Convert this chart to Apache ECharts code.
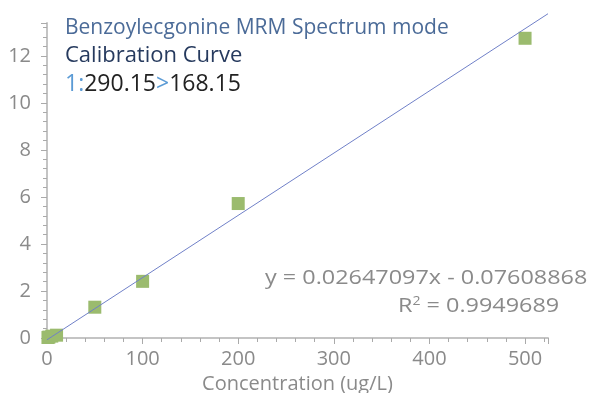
<!DOCTYPE html>
<html>
<head>
<meta charset="utf-8">
<script src="https://cdn.jsdelivr.net/npm/echarts@6/dist/echarts.min.js"></script>
<style>
html, body { margin: 0; padding: 0; background: #fff; }
#chart { width: 593px; height: 393px; }
</style>
</head>
<body>
<div id="chart"></div>
<script>
// calibration standards (concentration, response)
var concentrations = [1, 2, 5, 10, 50, 100, 200, 500];
var responses = [0.02, 0.04, 0.08, 0.12, 1.31, 2.41, 5.72, 12.75];
var slope = 0.02647097;
var intercept = -0.07608868;
var fitRange = [0, 524];

var xTicks = { min: 0, max: 524, interval: 100 };
var yTicks = { min: 0, max: 13.4, interval: 2 };

var pts = concentrations.map(function (c, i) { return [c, responses[i]]; });
var fitLine = fitRange.map(function (x) { return [x, slope * x + intercept]; });

var font = '"Open Sans", "Noto Sans", sans-serif';
var grey = '#8a8a8a';

var myChart = echarts.init(document.getElementById('chart'));
myChart.setOption({
    animation: false,
    grid: { left: 47, right: 45, top: 23, bottom: 55, containLabel: false, outerBoundsMode: 'none' },
    xAxis: {
        type: 'value',
        min: xTicks.min,
        max: xTicks.max,
        interval: xTicks.interval,
        name: 'Concentration (ug/L)',
        nameLocation: 'middle',
        nameGap: 36,
        nameTextStyle: { color: grey, fontSize: 20, fontFamily: font },
        axisLine: { show: true, onZero: false, lineStyle: { color: '#c4c4c4', width: 2 } },
        axisTick: { show: true, length: 6, lineStyle: { color: '#aaa' } },
        minorTick: { show: true, splitNumber: 5, length: 4, lineStyle: { color: '#aaa' } },
        axisLabel: { color: grey, fontSize: 20, fontFamily: font, margin: 11, showMaxLabel: false },
        splitLine: { show: false }
    },
    yAxis: {
        type: 'value',
        min: yTicks.min,
        max: yTicks.max,
        interval: yTicks.interval,
        axisLine: { show: true, onZero: false, lineStyle: { color: '#c4c4c4', width: 2 } },
        axisTick: { show: true, length: 6, lineStyle: { color: '#aaa' } },
        minorTick: { show: true, splitNumber: 5, length: 4, lineStyle: { color: '#aaa' } },
        axisLabel: { color: grey, fontSize: 20, fontFamily: font, margin: 16, showMaxLabel: false },
        splitLine: { show: false }
    },
    series: [
        {
            type: 'line',
            data: fitLine,
            showSymbol: false,
            symbol: 'none',
            clip: false,
            lineStyle: { color: '#7080c8', width: 1 },
            z: 3
        },
        {
            type: 'scatter',
            data: pts,
            symbol: 'rect',
            symbolSize: 13,
            itemStyle: { color: '#9bbb6e', opacity: 1 },
            z: 2
        }
    ],
    graphic: [
        {
            type: 'text', left: 65, top: 18,
            style: { text: 'Benzoylecgonine MRM Spectrum mode', fill: '#4b6b98', font: '21px ' + font }
        },
        {
            type: 'text', left: 65, top: 45,
            style: { text: 'Calibration Curve', fill: '#263a5e', font: '22px ' + font }
        },
        {
            type: 'text', left: 65, top: 73,
            style: {
                text: '{b|1:}{k|290.15}{b|>}{k|168.15}',
                font: '23px ' + font,
                rich: {
                    b: { fill: '#5b9bd5', font: '23px ' + font },
                    k: { fill: '#222', font: '23px ' + font }
                }
            }
        },
        {
            type: 'text', x: 265, y: 268, scaleX: 1.17,
            style: { text: 'y = 0.02647097x - 0.07608868', fill: grey, font: '20px ' + font }
        },
        {
            type: 'text', x: 398, y: 296, scaleX: 1.17,
            style: {
                text: 'R{s|2} = 0.9949689',
                fill: grey,
                font: '20px ' + font,
                rich: { s: { fill: grey, font: '12px ' + font, verticalAlign: 'top', padding: [0, 0, 8, 0] } }
            }
        }
    ]
});
</script>
</body>
</html>
